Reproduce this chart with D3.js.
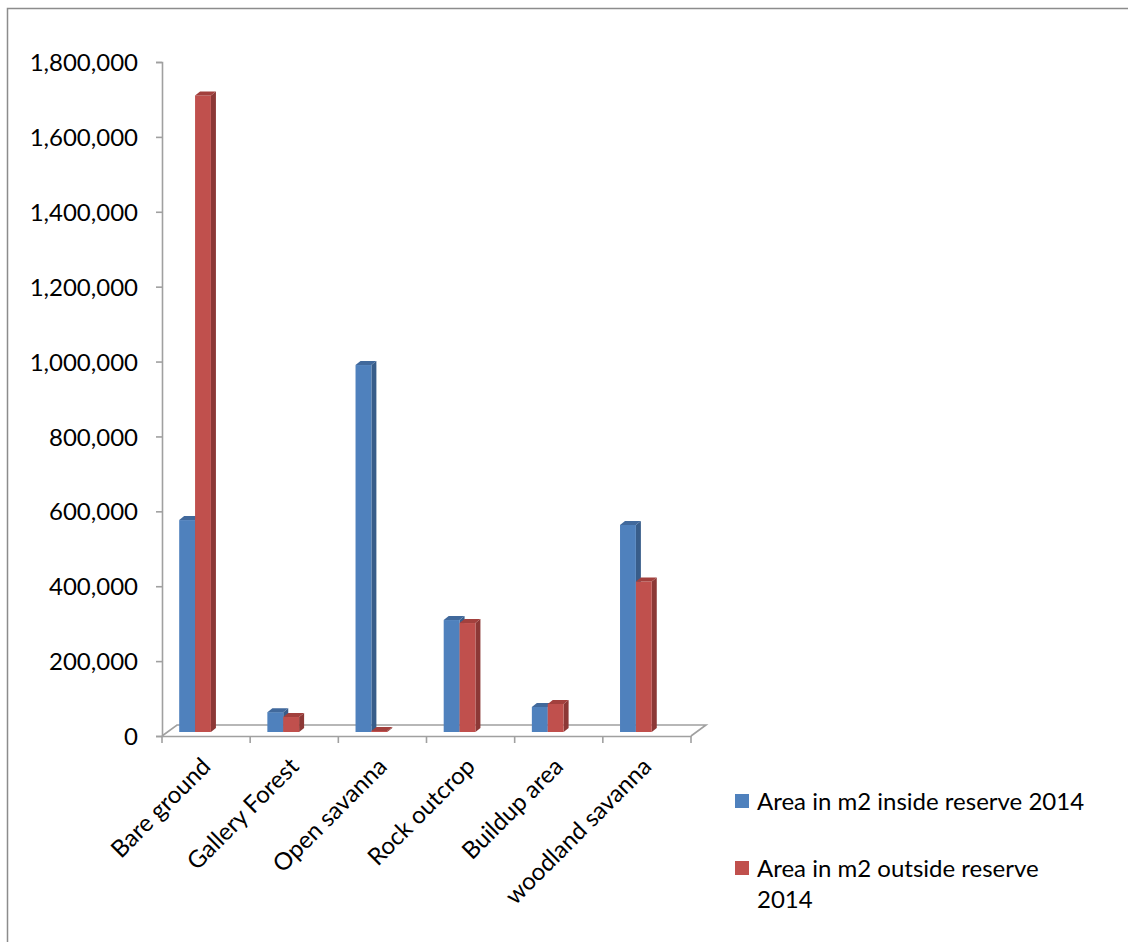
<!DOCTYPE html>
<html>
<head>
<meta charset="utf-8">
<script src="https://cdn.jsdelivr.net/npm/d3@7/dist/d3.min.js"></script>
<style>
  html, body { margin: 0; padding: 0; background: #fff; }
  svg { display: block; }
  text { font-family: Lato, "Open Sans", sans-serif; fill: #000; }
</style>
</head>
<body>
<svg id="chart" width="1128" height="942"></svg>
<script>
// Land cover classes and the two area series (m²)
const categories = ["Bare ground", "Gallery Forest", "Open savanna", "Rock outcrop", "Buildup area", "woodland savanna"];
const seriesNames = ["Area in m2 inside reserve 2014", "Area in m2 outside reserve 2014"];
const insideArea = [566000, 53000, 980000, 299000, 67000, 553000];
const outsideArea = [1700000, 40000, 3000, 291000, 75000, 402000];
const yTicks = [0, 200000, 400000, 600000, 800000, 1000000, 1200000, 1400000, 1600000, 1800000];

const seriesValues = [insideArea, outsideArea];
const faceColors = ["#4f81bd", "#c0504d"];
const sideColors = ["#385d8a", "#8c3836"];
const topColors = ["#41699c", "#a2403d"];

const svg = d3.select("#chart");
const W = 1128, H = 942;
const fontSize = "24px";

// Outer frame of the chart object
svg.append("path")
  .attr("d", `M${7.5},${H} V${8.5} H${W}`)
  .attr("fill", "none").attr("stroke", "#8c8c8c").attr("stroke-width", 1.5);

const plot = { left: 162, right: 691, top: 62, bottom: 736 };
const depth = { dx: 15, dy: -11 };      // floor depth (front to back)
const barDepth = { dx: 5, dy: -4 };     // depth of each column
const barShift = { dx: 0, dy: -4 };     // columns stand slightly behind the front edge

const x = d3.scaleBand().domain(categories).range([plot.left, plot.right]).padding(0);
const x1 = d3.scaleBand().domain(seriesNames).range([x.bandwidth() * 0.195, x.bandwidth() * 0.555]);
const y = d3.scaleLinear().domain([0, 1800000]).range([plot.bottom, plot.top]);

const axisColor = "#a0a0a0";

// Floor
svg.append("path")
  .attr("d", `M${plot.left},${plot.bottom} L${plot.left + depth.dx},${plot.bottom + depth.dy} L${plot.right + depth.dx},${plot.bottom + depth.dy} L${plot.right},${plot.bottom}`)
  .attr("fill", "none").attr("stroke", axisColor).attr("stroke-width", 1.6);

// Value axis
const yAxis = svg.append("g")
  .attr("transform", `translate(${plot.left},0)`)
  .call(d3.axisLeft(y).tickValues(yTicks).tickFormat(d3.format(",")).tickSize(6).tickPadding(18));
yAxis.select(".domain").attr("stroke", axisColor).attr("stroke-width", 1.6);
yAxis.selectAll(".tick line").attr("stroke", axisColor).attr("stroke-width", 1.6);
yAxis.selectAll(".tick text").style("font-size", fontSize).attr("dy", "0.36em");

// Category axis
const xAxis = svg.append("g")
  .attr("transform", `translate(0,${plot.bottom})`)
  .call(d3.axisBottom(x).tickSize(0).tickPadding(0));
xAxis.select(".domain").attr("stroke", axisColor).attr("stroke-width", 1.6);
xAxis.selectAll(".tick text")
  .style("font-size", fontSize)
  .attr("text-anchor", "end")
  .attr("x", 0).attr("y", 0).attr("dy", 0)
  .attr("transform", "translate(-6,20) rotate(-45) translate(0,17)");
// Category separators
const bounds = categories.map(c => x(c)).concat([plot.right]);
xAxis.selectAll("line.sep").data(bounds).join("line")
  .attr("class", "sep")
  .attr("x1", d => d).attr("x2", d => d)
  .attr("y1", 0).attr("y2", 7)
  .attr("stroke", axisColor).attr("stroke-width", 1.6);

// Columns
const bars = svg.append("g");
seriesNames.forEach((s, si) => {
  const g = bars.append("g");
  categories.forEach((c, ci) => {
    const v = seriesValues[si][ci];
    const x0 = x(c) + x1(s) + barShift.dx;
    const xr = x0 + x1.bandwidth();
    const yb = y(0) + barShift.dy;
    const yt = y(v) + barShift.dy;
    const dx = barDepth.dx, dy = barDepth.dy;
    // side face
    g.append("path")
      .attr("d", `M${xr},${yt} L${xr + dx},${yt + dy} L${xr + dx},${yb + dy} L${xr},${yb} Z`)
      .attr("fill", sideColors[si]);
    // front face
    g.append("rect")
      .attr("x", x0).attr("y", yt)
      .attr("width", x1.bandwidth()).attr("height", Math.max(0, yb - yt))
      .attr("fill", faceColors[si]);
    // top face
    g.append("path")
      .attr("d", `M${x0},${yt} L${x0 + dx},${yt + dy} L${xr + dx},${yt + dy} L${xr},${yt} Z`)
      .attr("fill", topColors[si]);
  });
});

// Legend
const legend = svg.append("g");
const legendItems = [
  { lines: ["Area in m2 inside reserve 2014"], y: 794 },
  { lines: ["Area in m2 outside reserve", "2014"], y: 861 }
];
legendItems.forEach((it, i) => {
  legend.append("rect")
    .attr("x", 735).attr("y", it.y).attr("width", 14).attr("height", 14)
    .attr("fill", faceColors[i]);
  const t = legend.append("text")
    .attr("x", 757).attr("y", it.y + 16)
    .style("font-size", fontSize);
  it.lines.forEach((ln, li) => {
    t.append("tspan").attr("x", 757).attr("dy", li === 0 ? 0 : 31).text(ln);
  });
});
</script>
</body>
</html>
